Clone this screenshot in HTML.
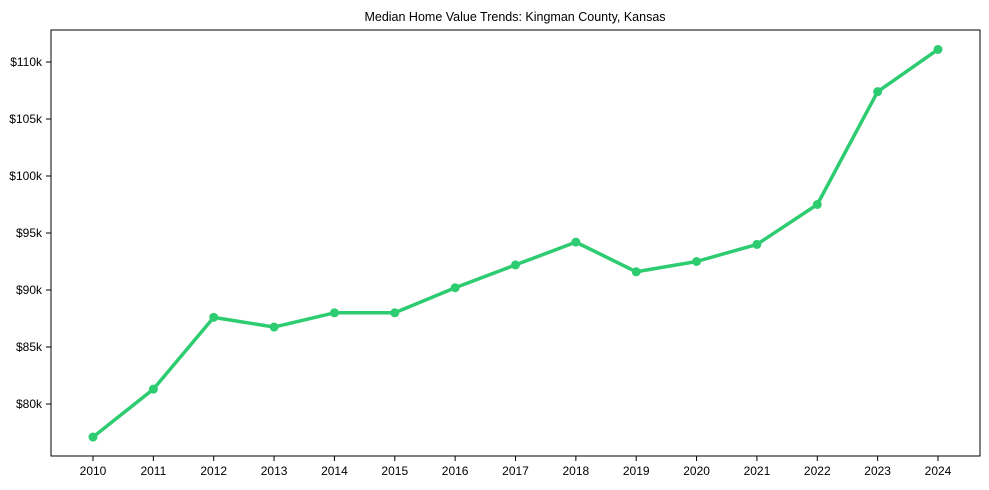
<!DOCTYPE html>
<html><head><meta charset="utf-8"><style>
body{margin:0;background:#fff;}
svg{display:block;font-family:"Liberation Sans",Arial,sans-serif;}
</style></head><body>
<svg id="chart" width="989" height="490">
<text x="515" y="21" text-anchor="middle" font-size="12.5" fill="#000">Median Home Value Trends: Kingman County, Kansas</text>
<g id="axes"></g>
<g id="series"></g>
<rect x="51" y="30" width="929" height="426" fill="none" stroke="#000" stroke-width="1"/>
</svg>
<script>
const years=[2010,2011,2012,2013,2014,2015,2016,2017,2018,2019,2020,2021,2022,2023,2024];
const values=[77.1,81.3,87.6,86.75,88.0,88.0,90.2,92.2,94.2,91.6,92.5,94.0,97.5,107.4,111.1];
const yTicks=[80,85,90,95,100,105,110];
const yTickLabels=["$80k","$85k","$90k","$95k","$100k","$105k","$110k"];

const NS="http://www.w3.org/2000/svg";
function xS(i){return 93+i*(938-93)/14;}
function yS(v){return 404-(v-80)*(404-62)/30;}
function mk(tag,attrs,parent){const e=document.createElementNS(NS,tag);for(const k in attrs)e.setAttribute(k,attrs[k]);parent.appendChild(e);return e;}
const axes=document.getElementById('axes'),series=document.getElementById('series');
yTicks.forEach((v,i)=>{
  const y=yS(v);
  const t=mk('line',{x1:46,x2:51,y1:y,y2:y,stroke:'#000'},axes);
  
  
  const l=mk('text',{x:42,y:y+4,'text-anchor':'end','font-size':'12',fill:'#000'},axes);
  l.textContent=yTickLabels[i];
  
  
});
years.forEach((yr,i)=>{
  const x=xS(i);
  const t=mk('line',{x1:x,x2:x,y1:456,y2:461,stroke:'#000'},axes);
  
  
  const l=mk('text',{x:x,y:475,'text-anchor':'middle','font-size':'12',fill:'#000'},axes);
  l.textContent=yr;
  
  
});
const pts=values.map((v,i)=>xS(i)+','+yS(v)).join(' ');
const line=mk('polyline',{points:pts,fill:'none',stroke:'#2ecc71','stroke-width':3.5,'stroke-linejoin':'round'},series);


values.forEach((v,i)=>{
  const c=mk('circle',{cx:xS(i),cy:yS(v),r:4.5,fill:'#2ecc71'},series);
  
  
});
</script>
</body></html>
